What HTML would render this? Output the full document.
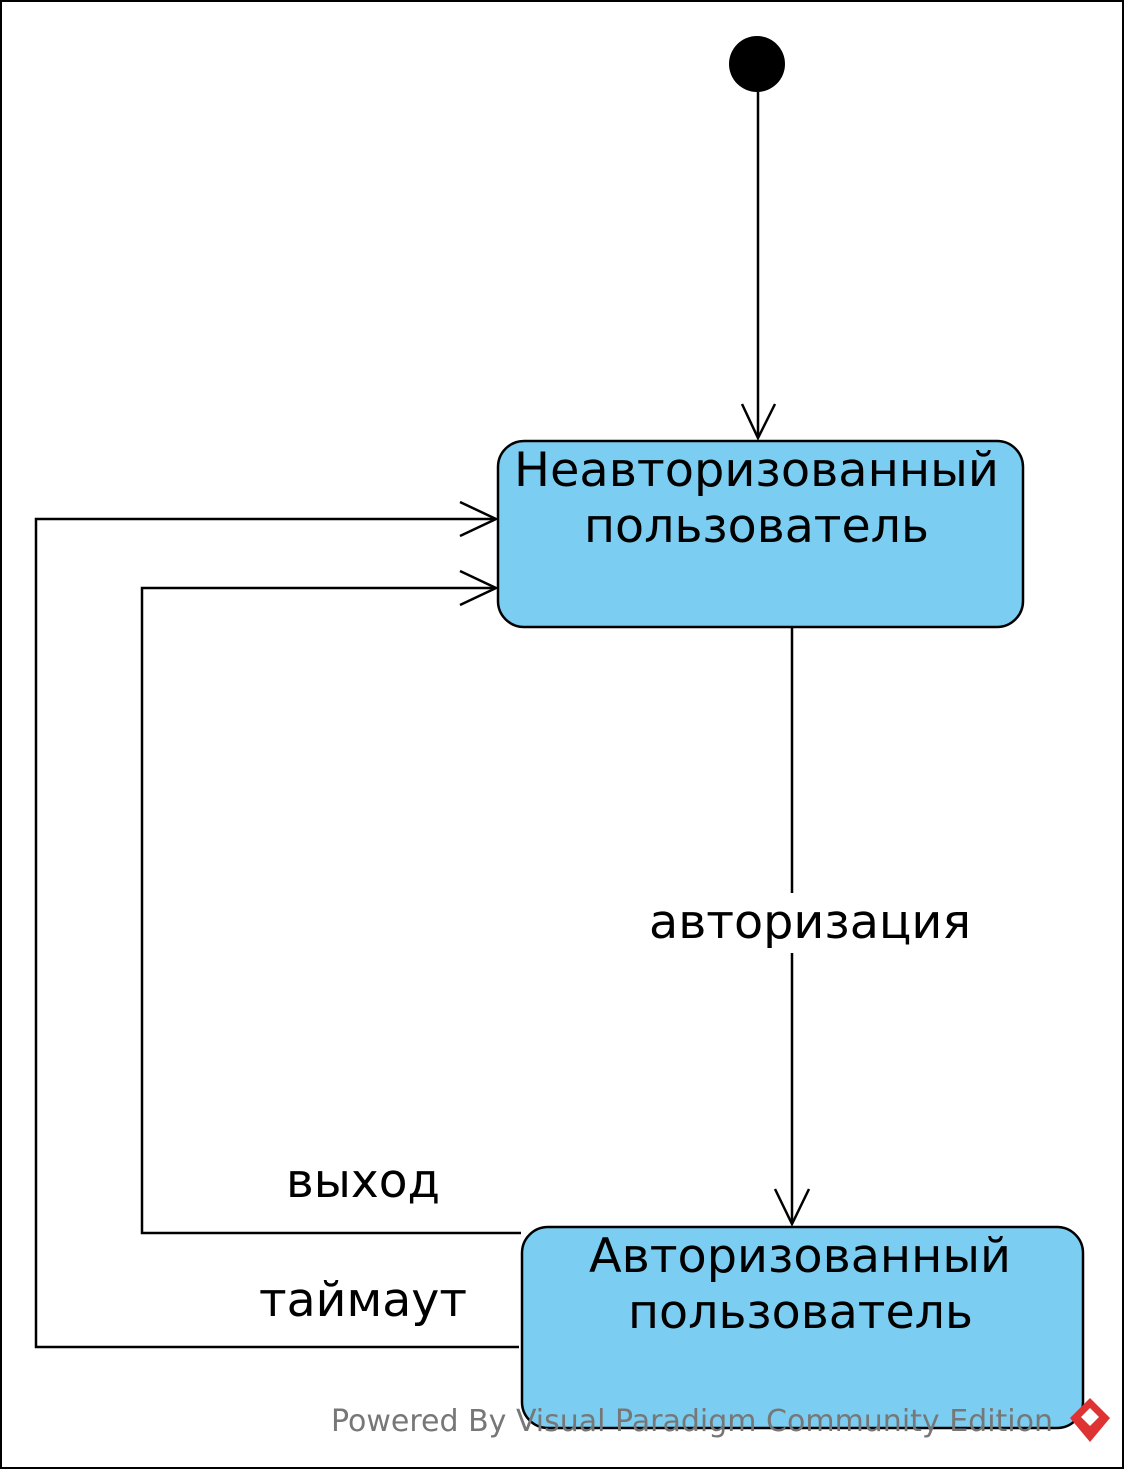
<!DOCTYPE html>
<html><head><meta charset="utf-8"><style>body{margin:0;background:#fff}svg{display:block}</style></head><body>
<svg width="1125" height="1470" viewBox="0 0 1125 1470" xmlns="http://www.w3.org/2000/svg" font-family="DejaVu Sans, Liberation Sans, sans-serif">
<rect x="1" y="1" width="1122" height="1467" fill="#fff" stroke="#000" stroke-width="2"/>
<circle cx="757" cy="64" r="28" fill="#000"/>
<g stroke="#000" stroke-width="2.5" fill="none">
<line x1="758" y1="92" x2="758" y2="438"/>
<polyline points="742,404 758,438 775,404"/>
<line x1="792" y1="627" x2="792" y2="893"/>
<line x1="792" y1="953" x2="792" y2="1224"/>
<polyline points="775,1189 792,1224 809,1189"/>
<polyline points="519,1347 36,1347 36,519 496,519"/>
<polyline points="460,502 496,519 460,536"/>
<polyline points="521,1233 142,1233 142,588 496,588"/>
<polyline points="460,571 496,588 460,605"/>
</g>
<rect x="498" y="441" width="525" height="186" rx="26" fill="#7bcef2" stroke="#000" stroke-width="2.5"/>
<rect x="522" y="1227" width="561" height="201" rx="26" fill="#7bcef2" stroke="#000" stroke-width="2.5"/>
<g font-size="47" fill="#000" lengthAdjust="spacingAndGlyphs">
<text x="514" y="486" textLength="485" lengthAdjust="spacingAndGlyphs">Неавторизованный</text>
<text x="584" y="542" textLength="345" lengthAdjust="spacingAndGlyphs">пользователь</text>
<text x="589" y="1272" textLength="422" lengthAdjust="spacingAndGlyphs">Авторизованный</text>
<text x="628" y="1328" textLength="345" lengthAdjust="spacingAndGlyphs">пользователь</text>
<text x="649" y="938" textLength="322" lengthAdjust="spacingAndGlyphs">авторизация</text>
<text x="286" y="1197" textLength="154" lengthAdjust="spacingAndGlyphs">выход</text>
<text x="259" y="1316" textLength="208" lengthAdjust="spacingAndGlyphs">таймаут</text>
</g>
<text x="331" y="1431" font-size="30" fill="#777" textLength="722" lengthAdjust="spacingAndGlyphs">Powered By Visual Paradigm Community Edition</text>
<g fill="#d33">
<polygon points="1090,1398 1110,1418 1090,1442 1070,1418"/>
<polygon points="1090,1408 1099,1417 1090,1426 1081,1417" fill="#fff"/>
</g>
</svg>
</body></html>
